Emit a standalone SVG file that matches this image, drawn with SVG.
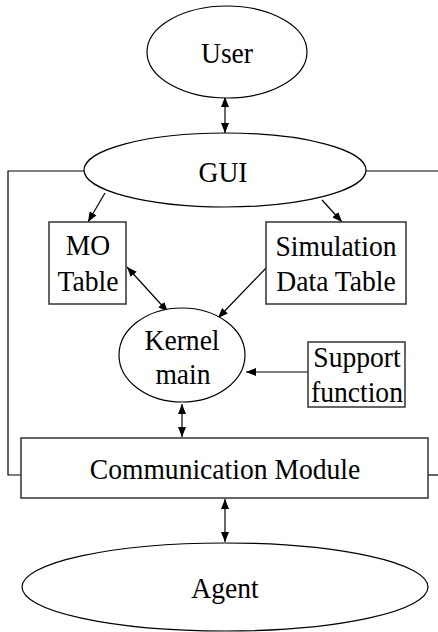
<svg xmlns="http://www.w3.org/2000/svg" width="438" height="632" viewBox="0 0 438 632">
<style>
.s{fill:#fff;stroke:#000;stroke-width:1.2}
.b{fill:#fff;stroke:#333;stroke-width:1.5}
.t{font-family:"Liberation Serif","Times New Roman",serif;font-size:30px;fill:#000;text-anchor:middle}
.c{fill:none;stroke:#000;stroke-width:1.2}
</style>
<defs>
<marker id="ah" viewBox="0 0 10 8" refX="10" refY="4" markerWidth="10" markerHeight="8" markerUnits="userSpaceOnUse" orient="auto-start-reverse">
<path d="M0,0 L10,4 L0,8 Z" fill="#000"/>
</marker>
</defs>
<rect width="438" height="632" fill="#fff"/>
<g id="connectors">
<path class="c" d="M84,171 H8 V475 H21"/>
<path class="c" d="M366,171 H438"/>
<path class="c" d="M428,475 H438"/>
<line class="c" x1="225" y1="97" x2="225" y2="133" marker-start="url(#ah)" marker-end="url(#ah)"/>
<line class="c" x1="105" y1="193" x2="88" y2="222" marker-end="url(#ah)"/>
<line class="c" x1="322" y1="200" x2="342" y2="222" marker-end="url(#ah)"/>
<line class="c" x1="127" y1="267" x2="168" y2="312" marker-start="url(#ah)" marker-end="url(#ah)"/>
<line class="c" x1="267" y1="267" x2="218" y2="318" marker-end="url(#ah)"/>
<line class="c" x1="308" y1="372" x2="246" y2="372" marker-end="url(#ah)"/>
<line class="c" x1="182" y1="404" x2="182" y2="437" marker-start="url(#ah)" marker-end="url(#ah)"/>
<line class="c" x1="225" y1="499" x2="225" y2="542" marker-start="url(#ah)" marker-end="url(#ah)"/>
</g>
<g id="user">
<ellipse class="s" cx="227" cy="52" rx="80" ry="46"/>
<text class="t" transform="translate(227,63) scale(0.92,1)">User</text>
</g>
<g id="gui">
<ellipse class="s" cx="225" cy="170" rx="141" ry="37"/>
<text class="t" transform="translate(223,182) scale(0.92,1)">GUI</text>
</g>
<g id="mo-table">
<rect class="b" x="49" y="222" width="77" height="82"/>
<text class="t" transform="translate(88,255) scale(0.92,1)">MO</text>
<text class="t" transform="translate(88,291) scale(0.92,1)">Table</text>
</g>
<g id="sim-table">
<rect class="b" x="266" y="222" width="140" height="82"/>
<text class="t" transform="translate(336,256) scale(0.92,1)">Simulation</text>
<text class="t" transform="translate(336,291) scale(0.92,1)">Data Table</text>
</g>
<g id="kernel">
<ellipse class="s" cx="182" cy="355" rx="63" ry="47"/>
<text class="t" transform="translate(182,350) scale(0.92,1)">Kernel</text>
<text class="t" transform="translate(183,384) scale(0.92,1)">main</text>
</g>
<g id="support">
<rect class="b" x="308" y="342" width="97" height="65"/>
<text class="t" transform="translate(357,367) scale(0.92,1)">Support</text>
<text class="t" transform="translate(357,402) scale(0.92,1)">function</text>
</g>
<g id="comm">
<rect class="b" x="21" y="438" width="407" height="60"/>
<text class="t" transform="translate(225,479) scale(0.92,1)">Communication Module</text>
</g>
<g id="agent">
<ellipse class="s" cx="225" cy="587" rx="203" ry="44"/>
<text class="t" transform="translate(225,598) scale(0.92,1)">Agent</text>
</g>
</svg>
